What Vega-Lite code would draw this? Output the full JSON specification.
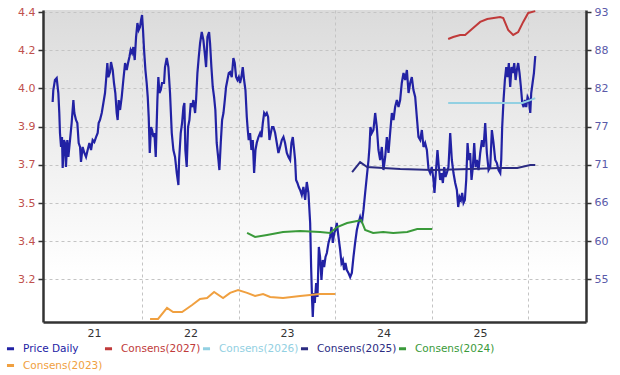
{
  "$schema": "https://vega.github.io/schema/vega-lite/v6.json",
  "width": 543,
  "height": 312,
  "autosize": {"type": "none"},
  "padding": {"left": 43, "top": 10, "right": 34, "bottom": 53},
  "background": "#ffffff",
  "datasets": {
    "price": [
      {"year":2020.570,"price":80.16},{"year":2020.577,"price":81.87},{"year":2020.594,"price":83.30},{"year":2020.612,"price":83.58},
      {"year":2020.629,"price":81.44},{"year":2020.639,"price":78.59},{"year":2020.646,"price":75.73},{"year":2020.657,"price":73.74},
      {"year":2020.667,"price":75.16},{"year":2020.674,"price":70.74},{"year":2020.688,"price":74.73},{"year":2020.698,"price":74.31},
      {"year":2020.708,"price":70.88},{"year":2020.722,"price":74.73},{"year":2020.733,"price":72.31},{"year":2020.750,"price":74.73},
      {"year":2020.767,"price":77.16},{"year":2020.785,"price":80.44},{"year":2020.795,"price":78.59},{"year":2020.812,"price":77.59},
      {"year":2020.826,"price":77.16},{"year":2020.840,"price":74.31},{"year":2020.854,"price":73.74},{"year":2020.864,"price":71.60},
      {"year":2020.881,"price":73.74},{"year":2020.899,"price":72.88},{"year":2020.916,"price":72.31},{"year":2020.933,"price":73.31},
      {"year":2020.951,"price":74.31},{"year":2020.968,"price":73.31},{"year":2020.985,"price":74.73},{"year":2021.002,"price":74.45},
      {"year":2021.020,"price":75.16},{"year":2021.037,"price":75.73},{"year":2021.047,"price":77.16},{"year":2021.061,"price":77.59},
      {"year":2021.079,"price":78.59},{"year":2021.096,"price":80.01},{"year":2021.113,"price":81.44},{"year":2021.124,"price":83.30},
      {"year":2021.137,"price":85.72},{"year":2021.148,"price":83.72},{"year":2021.165,"price":84.44},{"year":2021.175,"price":85.86},
      {"year":2021.193,"price":84.72},{"year":2021.206,"price":82.87},{"year":2021.220,"price":81.44},{"year":2021.234,"price":78.59},
      {"year":2021.244,"price":77.59},{"year":2021.255,"price":80.44},{"year":2021.269,"price":79.02},{"year":2021.286,"price":80.87},
      {"year":2021.303,"price":83.30},{"year":2021.321,"price":85.72},{"year":2021.338,"price":84.72},{"year":2021.352,"price":85.72},
      {"year":2021.366,"price":86.58},{"year":2021.379,"price":87.58},{"year":2021.393,"price":87.15},{"year":2021.407,"price":88.00},
      {"year":2021.421,"price":86.15},{"year":2021.435,"price":89.43},{"year":2021.449,"price":91.43},{"year":2021.462,"price":90.43},
      {"year":2021.476,"price":90.86},{"year":2021.487,"price":91.86},{"year":2021.497,"price":92.57},{"year":2021.507,"price":90.43},
      {"year":2021.518,"price":87.58},{"year":2021.532,"price":84.72},{"year":2021.545,"price":82.87},{"year":2021.556,"price":80.87},
      {"year":2021.566,"price":78.02},{"year":2021.577,"price":72.88},{"year":2021.590,"price":76.59},{"year":2021.601,"price":76.16},
      {"year":2021.615,"price":75.16},{"year":2021.625,"price":75.73},{"year":2021.639,"price":72.31},{"year":2021.656,"price":80.44},
      {"year":2021.666,"price":83.72},{"year":2021.677,"price":81.44},{"year":2021.691,"price":81.87},{"year":2021.704,"price":82.87},
      {"year":2021.725,"price":82.87},{"year":2021.735,"price":85.15},{"year":2021.753,"price":86.44},{"year":2021.770,"price":85.15},
      {"year":2021.787,"price":81.44},{"year":2021.805,"price":75.73},{"year":2021.822,"price":73.31},{"year":2021.839,"price":72.31},
      {"year":2021.857,"price":70.02},{"year":2021.874,"price":68.31},{"year":2021.881,"price":71.88},{"year":2021.898,"price":75.73},
      {"year":2021.912,"price":77.16},{"year":2021.926,"price":79.44},{"year":2021.936,"price":80.01},{"year":2021.946,"price":73.31},
      {"year":2021.960,"price":70.88},{"year":2021.974,"price":76.59},{"year":2021.988,"price":77.59},{"year":2022.002,"price":80.01},
      {"year":2022.016,"price":79.44},{"year":2022.029,"price":80.44},{"year":2022.047,"price":78.59},{"year":2022.057,"price":80.44},
      {"year":2022.071,"price":84.29},{"year":2022.085,"price":86.58},{"year":2022.099,"price":88.58},{"year":2022.116,"price":90.15},
      {"year":2022.133,"price":89.00},{"year":2022.147,"price":87.15},{"year":2022.161,"price":85.15},{"year":2022.175,"price":89.43},
      {"year":2022.192,"price":90.15},{"year":2022.202,"price":88.58},{"year":2022.216,"price":85.15},{"year":2022.230,"price":82.30},
      {"year":2022.244,"price":80.87},{"year":2022.257,"price":79.02},{"year":2022.271,"price":74.31},{"year":2022.289,"price":71.88},
      {"year":2022.299,"price":70.45},{"year":2022.313,"price":74.31},{"year":2022.327,"price":77.59},{"year":2022.341,"price":78.59},
      {"year":2022.355,"price":80.44},{"year":2022.368,"price":82.30},{"year":2022.382,"price":83.30},{"year":2022.396,"price":84.29},
      {"year":2022.410,"price":84.44},{"year":2022.427,"price":83.72},{"year":2022.444,"price":86.44},{"year":2022.458,"price":85.72},
      {"year":2022.472,"price":83.72},{"year":2022.486,"price":83.30},{"year":2022.500,"price":83.72},{"year":2022.513,"price":82.87},
      {"year":2022.527,"price":83.72},{"year":2022.541,"price":85.15},{"year":2022.555,"price":83.30},{"year":2022.569,"price":81.87},
      {"year":2022.583,"price":78.02},{"year":2022.593,"price":76.16},{"year":2022.603,"price":74.73},{"year":2022.617,"price":75.73},
      {"year":2022.631,"price":73.31},{"year":2022.645,"price":74.73},{"year":2022.659,"price":70.02},{"year":2022.673,"price":73.31},
      {"year":2022.686,"price":74.31},{"year":2022.704,"price":75.16},{"year":2022.721,"price":75.73},{"year":2022.735,"price":75.16},
      {"year":2022.749,"price":77.16},{"year":2022.763,"price":78.59},{"year":2022.776,"price":78.30},{"year":2022.790,"price":78.59},
      {"year":2022.804,"price":78.02},{"year":2022.818,"price":74.73},{"year":2022.832,"price":75.73},{"year":2022.845,"price":76.59},
      {"year":2022.859,"price":76.59},{"year":2022.877,"price":75.73},{"year":2022.894,"price":74.31},{"year":2022.911,"price":72.88},
      {"year":2022.928,"price":73.74},{"year":2022.946,"price":74.73},{"year":2022.963,"price":75.16},{"year":2022.980,"price":74.31},
      {"year":2022.998,"price":72.88},{"year":2023.015,"price":72.31},{"year":2023.032,"price":71.88},{"year":2023.046,"price":74.31},
      {"year":2023.060,"price":75.16},{"year":2023.074,"price":73.31},{"year":2023.084,"price":71.88},{"year":2023.094,"price":69.03},
      {"year":2023.108,"price":68.60},{"year":2023.122,"price":68.03},{"year":2023.136,"price":67.60},{"year":2023.153,"price":66.89},
      {"year":2023.170,"price":68.03},{"year":2023.188,"price":66.20},{"year":2023.205,"price":68.74},{"year":2023.222,"price":67.20},
      {"year":2023.240,"price":62.89},{"year":2023.250,"price":56.61},{"year":2023.260,"price":51.90},{"year":2023.267,"price":49.48},
      {"year":2023.278,"price":52.90},{"year":2023.288,"price":51.47},{"year":2023.302,"price":54.33},{"year":2023.316,"price":52.33},
      {"year":2023.330,"price":59.47},{"year":2023.343,"price":58.04},{"year":2023.357,"price":54.76},{"year":2023.371,"price":57.61},
      {"year":2023.385,"price":56.61},{"year":2023.399,"price":58.04},{"year":2023.413,"price":58.61},{"year":2023.430,"price":60.04},
      {"year":2023.447,"price":60.89},{"year":2023.461,"price":62.32},{"year":2023.475,"price":60.04},{"year":2023.489,"price":61.46},
      {"year":2023.503,"price":61.89},{"year":2023.516,"price":62.89},{"year":2023.534,"price":60.89},{"year":2023.551,"price":59.04},
      {"year":2023.565,"price":57.18},{"year":2023.579,"price":57.61},{"year":2023.592,"price":56.18},{"year":2023.606,"price":57.18},
      {"year":2023.620,"price":56.18},{"year":2023.637,"price":55.76},{"year":2023.655,"price":55.18},{"year":2023.672,"price":55.76},
      {"year":2023.689,"price":58.04},{"year":2023.706,"price":60.04},{"year":2023.724,"price":61.89},{"year":2023.741,"price":62.89},
      {"year":2023.758,"price":63.75},{"year":2023.776,"price":62.89},{"year":2023.793,"price":64.75},{"year":2023.810,"price":67.17},
      {"year":2023.827,"price":69.46},{"year":2023.845,"price":71.88},{"year":2023.855,"price":73.74},{"year":2023.865,"price":76.59},
      {"year":2023.879,"price":75.73},{"year":2023.896,"price":76.16},{"year":2023.914,"price":78.59},{"year":2023.931,"price":76.59},
      {"year":2023.948,"price":73.31},{"year":2023.966,"price":71.88},{"year":2023.983,"price":73.74},{"year":2024.000,"price":70.45},
      {"year":2024.018,"price":72.31},{"year":2024.035,"price":75.16},{"year":2024.052,"price":72.88},{"year":2024.069,"price":75.73},
      {"year":2024.087,"price":78.59},{"year":2024.104,"price":77.59},{"year":2024.121,"price":79.44},{"year":2024.139,"price":80.44},
      {"year":2024.156,"price":79.44},{"year":2024.173,"price":80.44},{"year":2024.190,"price":82.87},{"year":2024.208,"price":84.29},
      {"year":2024.225,"price":83.30},{"year":2024.243,"price":84.72},{"year":2024.260,"price":81.44},{"year":2024.277,"price":82.87},
      {"year":2024.294,"price":83.72},{"year":2024.311,"price":81.87},{"year":2024.329,"price":80.87},{"year":2024.346,"price":78.02},
      {"year":2024.363,"price":75.16},{"year":2024.381,"price":74.73},{"year":2024.398,"price":76.16},{"year":2024.415,"price":73.74},
      {"year":2024.432,"price":74.31},{"year":2024.450,"price":73.31},{"year":2024.467,"price":70.59},{"year":2024.484,"price":70.02},
      {"year":2024.501,"price":70.88},{"year":2024.519,"price":69.03},{"year":2024.529,"price":67.17},{"year":2024.543,"price":70.02},
      {"year":2024.560,"price":73.31},{"year":2024.574,"price":70.88},{"year":2024.588,"price":69.03},{"year":2024.602,"price":70.02},
      {"year":2024.616,"price":68.60},{"year":2024.630,"price":70.88},{"year":2024.643,"price":69.46},{"year":2024.657,"price":70.02},
      {"year":2024.674,"price":70.88},{"year":2024.692,"price":75.73},{"year":2024.709,"price":71.88},{"year":2024.726,"price":70.02},
      {"year":2024.744,"price":68.60},{"year":2024.761,"price":67.60},{"year":2024.775,"price":65.17},{"year":2024.789,"price":66.60},
      {"year":2024.803,"price":66.17},{"year":2024.816,"price":67.17},{"year":2024.830,"price":65.75},{"year":2024.844,"price":66.17},
      {"year":2024.858,"price":69.03},{"year":2024.872,"price":74.31},{"year":2024.886,"price":71.88},{"year":2024.899,"price":72.88},
      {"year":2024.913,"price":69.03},{"year":2024.927,"price":70.88},{"year":2024.941,"price":74.31},{"year":2024.955,"price":70.88},
      {"year":2024.969,"price":71.88},{"year":2024.986,"price":70.45},{"year":2025.003,"price":72.88},{"year":2025.021,"price":74.73},
      {"year":2025.038,"price":73.74},{"year":2025.055,"price":77.16},{"year":2025.072,"price":72.88},{"year":2025.090,"price":70.45},
      {"year":2025.107,"price":70.88},{"year":2025.124,"price":76.16},{"year":2025.141,"price":74.31},{"year":2025.159,"price":71.88},
      {"year":2025.176,"price":71.45},{"year":2025.193,"price":70.45},{"year":2025.211,"price":70.02},{"year":2025.221,"price":71.88},
      {"year":2025.231,"price":76.59},{"year":2025.245,"price":80.44},{"year":2025.259,"price":83.30},{"year":2025.273,"price":85.15},
      {"year":2025.287,"price":83.72},{"year":2025.300,"price":85.72},{"year":2025.314,"price":82.30},{"year":2025.328,"price":85.15},
      {"year":2025.342,"price":84.29},{"year":2025.356,"price":85.72},{"year":2025.370,"price":83.30},{"year":2025.383,"price":84.72},
      {"year":2025.397,"price":85.72},{"year":2025.411,"price":84.29},{"year":2025.425,"price":82.30},{"year":2025.439,"price":80.01},
      {"year":2025.453,"price":79.44},{"year":2025.466,"price":80.44},{"year":2025.480,"price":79.44},{"year":2025.494,"price":80.87},
      {"year":2025.508,"price":80.44},{"year":2025.522,"price":78.59},{"year":2025.532,"price":81.44},{"year":2025.546,"price":82.87},
      {"year":2025.560,"price":84.29},{"year":2025.574,"price":86.72}
    ],
    "consensus": [
      {"series":"Consens(2027)","year":2024.671,"eps":4.260},{"series":"Consens(2027)","year":2024.723,"eps":4.269},
      {"series":"Consens(2027)","year":2024.795,"eps":4.278},{"series":"Consens(2027)","year":2024.847,"eps":4.278},
      {"series":"Consens(2027)","year":2024.930,"eps":4.309},{"series":"Consens(2027)","year":2025.003,"eps":4.336},
      {"series":"Consens(2027)","year":2025.076,"eps":4.349},{"series":"Consens(2027)","year":2025.210,"eps":4.358},
      {"series":"Consens(2027)","year":2025.242,"eps":4.353},{"series":"Consens(2027)","year":2025.293,"eps":4.300},
      {"series":"Consens(2027)","year":2025.345,"eps":4.278},{"series":"Consens(2027)","year":2025.397,"eps":4.291},
      {"series":"Consens(2027)","year":2025.449,"eps":4.336},{"series":"Consens(2027)","year":2025.501,"eps":4.376},
      {"series":"Consens(2027)","year":2025.574,"eps":4.384},
      {"series":"Consens(2026)","year":2024.671,"eps":3.975},{"series":"Consens(2026)","year":2025.003,"eps":3.975},
      {"series":"Consens(2026)","year":2025.314,"eps":3.975},{"series":"Consens(2026)","year":2025.439,"eps":3.975},
      {"series":"Consens(2026)","year":2025.522,"eps":3.988},{"series":"Consens(2026)","year":2025.574,"eps":3.997},
      {"series":"Consens(2025)","year":2023.675,"eps":3.668},{"series":"Consens(2025)","year":2023.758,"eps":3.712},
      {"series":"Consens(2025)","year":2023.831,"eps":3.690},{"series":"Consens(2025)","year":2023.997,"eps":3.686},
      {"series":"Consens(2025)","year":2024.173,"eps":3.681},{"series":"Consens(2025)","year":2024.515,"eps":3.677},
      {"series":"Consens(2025)","year":2024.899,"eps":3.681},{"series":"Consens(2025)","year":2025.210,"eps":3.686},
      {"series":"Consens(2025)","year":2025.387,"eps":3.686},{"series":"Consens(2025)","year":2025.522,"eps":3.699},
      {"series":"Consens(2025)","year":2025.574,"eps":3.699},
      {"series":"Consens(2024)","year":2022.586,"eps":3.397},{"series":"Consens(2024)","year":2022.669,"eps":3.379},
      {"series":"Consens(2024)","year":2022.793,"eps":3.388},{"series":"Consens(2024)","year":2022.959,"eps":3.401},
      {"series":"Consens(2024)","year":2023.136,"eps":3.405},{"series":"Consens(2024)","year":2023.343,"eps":3.401},
      {"series":"Consens(2024)","year":2023.447,"eps":3.397},{"series":"Consens(2024)","year":2023.520,"eps":3.423},
      {"series":"Consens(2024)","year":2023.623,"eps":3.441},{"series":"Consens(2024)","year":2023.727,"eps":3.450},
      {"series":"Consens(2024)","year":2023.769,"eps":3.454},{"series":"Consens(2024)","year":2023.810,"eps":3.410},
      {"series":"Consens(2024)","year":2023.893,"eps":3.397},{"series":"Consens(2024)","year":2023.997,"eps":3.401},
      {"series":"Consens(2024)","year":2024.101,"eps":3.397},{"series":"Consens(2024)","year":2024.246,"eps":3.401},
      {"series":"Consens(2024)","year":2024.350,"eps":3.414},{"series":"Consens(2024)","year":2024.505,"eps":3.414},
      {"series":"Consens(2023)","year":2021.580,"eps":3.014},{"series":"Consens(2023)","year":2021.663,"eps":3.014},
      {"series":"Consens(2023)","year":2021.756,"eps":3.063},{"series":"Consens(2023)","year":2021.819,"eps":3.045},
      {"series":"Consens(2023)","year":2021.912,"eps":3.045},{"series":"Consens(2023)","year":2022.016,"eps":3.076},
      {"series":"Consens(2023)","year":2022.098,"eps":3.103},{"series":"Consens(2023)","year":2022.171,"eps":3.107},
      {"series":"Consens(2023)","year":2022.244,"eps":3.134},{"series":"Consens(2023)","year":2022.337,"eps":3.107},
      {"series":"Consens(2023)","year":2022.410,"eps":3.130},{"series":"Consens(2023)","year":2022.493,"eps":3.143},
      {"series":"Consens(2023)","year":2022.586,"eps":3.130},{"series":"Consens(2023)","year":2022.669,"eps":3.116},
      {"series":"Consens(2023)","year":2022.752,"eps":3.125},{"series":"Consens(2023)","year":2022.825,"eps":3.112},
      {"series":"Consens(2023)","year":2022.959,"eps":3.107},{"series":"Consens(2023)","year":2023.136,"eps":3.116},
      {"series":"Consens(2023)","year":2023.343,"eps":3.125},{"series":"Consens(2023)","year":2023.499,"eps":3.125}
    ]
  },
  "layer": [
    {
      "data": {"name": "price"},
      "mark": {"type": "line", "strokeWidth": 2.2},
      "encoding": {
        "x": {
          "field": "year", "type": "quantitative",
          "scale": {"domain": [2020.47, 2026.10], "nice": false, "zero": false},
          "axis": {
            "title": null,
            "values": [2021, 2021.5, 2022, 2022.5, 2023, 2023.5, 2024, 2024.5, 2025, 2025.5],
            "labelExpr": "datum.value % 1 === 0 ? slice(toString(datum.value), 2) : ''",
            "labelOverlap": false,
            "labelFlush": false,
            "grid": true,
            "gridDash": [3, 3],
            "gridColor": "#c4c4c4",
            "gridOpacity": {"condition": {"test": "datum.value % 1 === 0", "value": 0}, "value": 1},
            "ticks": false,
            "domainColor": "#333333",
            "domainWidth": 2.5,
            "labelColor": "#333333",
            "labelFont": "DejaVu Sans",
            "labelFontSize": 11,
            "labelPadding": 5
          }
        },
        "y": {
          "field": "price", "type": "quantitative",
          "scale": {"domain": [48.76, 93.29], "nice": false, "zero": false},
          "axis": {
            "orient": "right",
            "title": null,
            "values": [54.85, 60.3, 65.75, 71.2, 76.65, 82.1, 87.55, 93],
            "format": ".0f",
            "grid": false,
            "labelColor": "#5a5aa8",
            "labelFont": "DejaVu Sans",
            "labelFontSize": 11,
            "labelPadding": 3,
            "tickSize": 5,
            "tickColor": "#333333",
            "tickWidth": 1.5,
            "domainColor": "#333333",
            "domainWidth": 2.5
          }
        },
        "color": {
          "datum": "Price Daily", "type": "nominal",
          "scale": {
            "domain": ["Price Daily", "Consens(2027)", "Consens(2026)", "Consens(2025)", "Consens(2024)", "Consens(2023)"],
            "range": ["#2222a4", "#c03a3a", "#92d0e2", "#2b2b82", "#3a9a3a", "#f0a040"]
          },
          "legend": {"title": null}
        }
      }
    },
    {
      "data": {"name": "consensus"},
      "mark": {"type": "line", "strokeWidth": 2},
      "encoding": {
        "x": {"field": "year", "type": "quantitative"},
        "y": {
          "field": "eps", "type": "quantitative",
          "scale": {"domain": [3.0005, 4.389], "nice": false, "zero": false},
          "axis": {
            "orient": "left",
            "title": null,
            "values": [3.19, 3.36, 3.53, 3.70, 3.87, 4.04, 4.21, 4.38],
            "format": ".1f",
            "grid": true,
            "gridDash": [3, 3],
            "gridColor": "#c4c4c4",
            "labelColor": "#c0504d",
            "labelFont": "DejaVu Sans",
            "labelFontSize": 11,
            "labelPadding": 3,
            "tickSize": 5,
            "tickColor": "#333333",
            "tickWidth": 1.5,
            "domainColor": "#333333",
            "domainWidth": 2.5
          }
        },
        "color": {"field": "series", "type": "nominal", "legend": {"title": null}}
      }
    }
  ],
  "resolve": {"scale": {"y": "independent"}},
  "config": {
    "view": {
      "stroke": null,
      "fill": {
        "gradient": "linear", "x1": 0, "y1": 0, "x2": 0, "y2": 1,
        "stops": [
          {"offset": 0, "color": "#dbdbdb"},
          {"offset": 0.45, "color": "#efefef"},
          {"offset": 0.85, "color": "#ffffff"},
          {"offset": 1, "color": "#ffffff"}
        ]
      }
    },
    "legend": {
      "orient": "none",
      "legendX": -38,
      "legendY": 333,
      "direction": "horizontal",
      "columns": 5,
      "symbolType": "stroke",
      "symbolSize": 50,
      "symbolStrokeWidth": 3,
      "labelFont": "DejaVu Sans",
      "labelFontSize": 10.5,
      "labelOffset": 7,
      "labelLimit": 0,
      "columnPadding": -6,
      "rowPadding": 4,
      "labelColor": {"expr": "scale('color', datum.value)"}
    }
  }
}
